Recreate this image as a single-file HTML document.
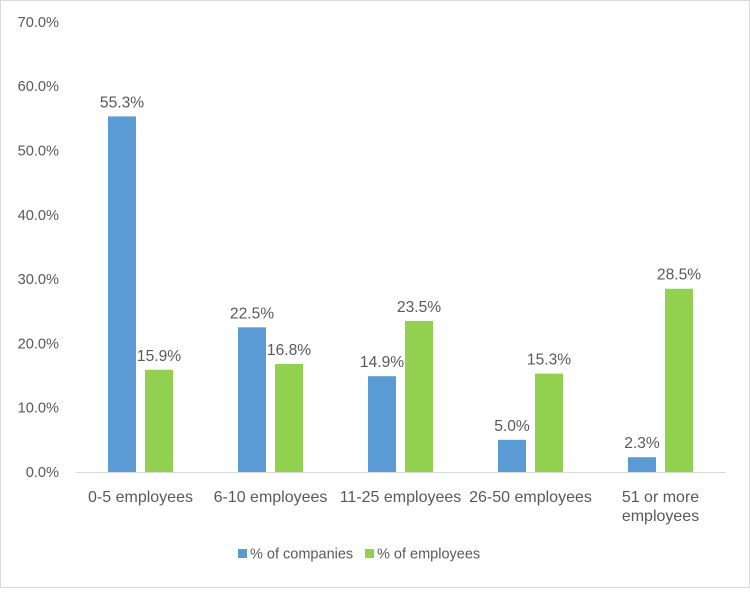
<!DOCTYPE html>
<html><head><meta charset="utf-8"><style>
body{margin:0;background:#fff;}
svg text{font-family:"Liberation Sans",Arial,sans-serif;fill:#595959;font-size:14px;}
</style></head><body>
<svg width="750" height="588">
<rect x="0.5" y="0.5" width="749" height="587" fill="#fff" stroke="#d9d9d9"/>
<g id="yaxis"></g>
<g id="bars"></g>
<g id="xaxis"></g>
<g>
<rect x="238" y="549" width="9" height="9" fill="#5b9bd5"/>
<text x="250" y="558.5" style="font-size:14.5px">% of companies</text>
<rect x="365" y="549" width="9" height="9" fill="#92d050"/>
<text x="377" y="558.5" style="font-size:14.5px">% of employees</text>
</g>
</svg>
<script>
const categories=[["0-5 employees"],["6-10 employees"],["11-25 employees"],["26-50 employees"],["51 or more","employees"]];
const companies=[55.3,22.5,14.9,5.0,2.3];
const employees=[15.9,16.8,23.5,15.3,28.5];
const yTicks=[0,10,20,30,40,50,60,70];
const NS="http://www.w3.org/2000/svg";
const x0=75.5,band=130,y0=472,pxPer=64.3/10;
const y=v=>y0-v*pxPer;
const xc=i=>x0+band*(i+0.5);
function mk(tag,attrs,parent,txt){const e=document.createElementNS(NS,tag);for(const k in attrs)e.setAttribute(k,attrs[k]);if(txt!=null)e.textContent=txt;parent.appendChild(e);return e;}
const ya=document.getElementById('yaxis'),bg=document.getElementById('bars'),xa=document.getElementById('xaxis');
yTicks.forEach(t=>{const e=mk('text',{x:59,y:y(t)+5,'text-anchor':'end',style:'font-size:14.6px'},ya,t.toFixed(1)+'%');

});
const base=mk('line',{x1:x0,x2:x0+band*5,y1:y0+0.5,y2:y0+0.5,stroke:'#d9d9d9'},xa);


const bw=28,gap=9;
categories.forEach((c,i)=>{
 const cx=xc(i);
 [[companies[i],'#5b9bd5',cx-gap/2-bw,'bar-companies'],[employees[i],'#92d050',cx+gap/2,'bar-employees']].forEach(([v,col,bx,nm])=>{
  const r=mk('rect',{x:bx,y:y(v),width:bw,height:y0-y(v),fill:col},bg);
  
  
  const l=mk('text',{x:bx+bw/2,y:y(v)-9,'text-anchor':'middle',style:'font-size:15.6px'},bg,v.toFixed(1)+'%');
  
  
 });
 c.forEach((line,j)=>{const t=mk('text',{x:cx,y:502+j*19,'text-anchor':'middle',style:'font-size:16px'},xa,line);
 
 });
});
</script>
</body></html>
